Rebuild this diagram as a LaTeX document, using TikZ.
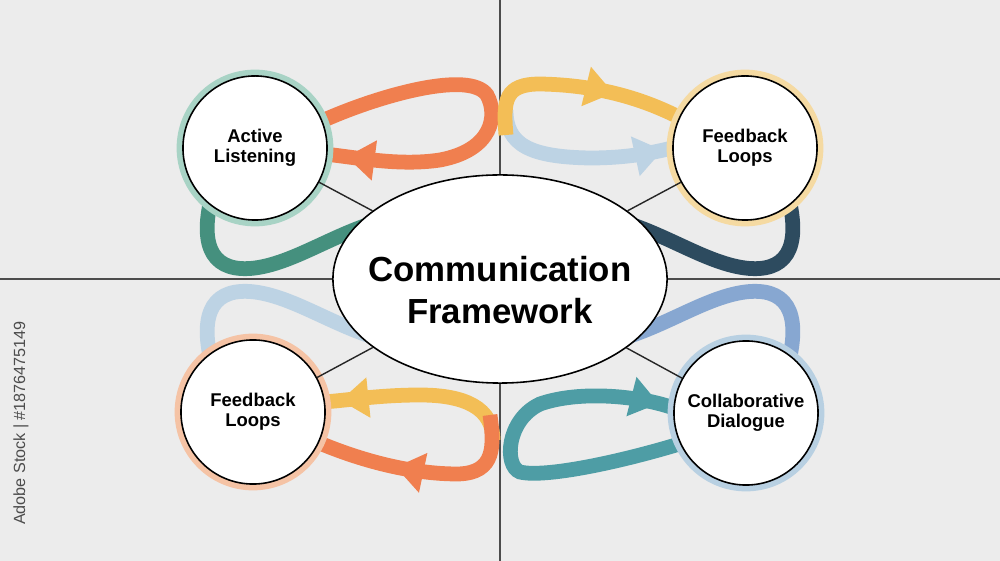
\documentclass[tikz,border=0pt]{standalone}
\usepackage{fontspec}
\setmainfont{Liberation Sans}
\usetikzlibrary{shapes.geometric, arrows.meta, decorations.markings, positioning}
\definecolor{paper}{HTML}{ECECEC}
\definecolor{orangec}{HTML}{F07F4F}
\definecolor{yellowc}{HTML}{F3BE56}
\definecolor{paleblue}{HTML}{BDD3E4}
\definecolor{greenc}{HTML}{45907E}
\definecolor{navyc}{HTML}{2D4B5F}
\definecolor{bluec}{HTML}{87A7D1}
\definecolor{tealc}{HTML}{4E9DA5}
\definecolor{ringteal}{HTML}{A8D3C5}
\definecolor{ringyellow}{HTML}{F5DAA2}
\definecolor{ringpeach}{HTML}{F5C3A5}
\definecolor{ringblue}{HTML}{B8D0E2}
\pgfdeclarelayer{back}
\pgfdeclarelayer{mid}
\pgfsetlayers{back,mid,main}
\tikzset{
  topic/.style={circle, draw=black, line width=0.45pt, fill=white, minimum size=1.44cm,
    inner sep=0pt, align=center, font=\fontsize{5.25}{5.7}\selectfont\bfseries,
    preaction={draw=#1, line width=3.6pt}},
  ribbon/.style={color=#1, line width=4.2pt},
  midarrow/.style={postaction={decorate}, decoration={markings,
    mark=at position #1 with {\arrow{Triangle[width=11pt,length=8pt]}}}},
  spoke/.style={draw=black!85, line width=0.4pt}
}

\begin{document}
\begin{tikzpicture}[x=0.01cm, y=-0.01cm]
    \useasboundingbox (0,0) rectangle (1000,561);

    % nodes
    \node[ellipse, draw=black, line width=0.45pt, fill=white, minimum width=3.34cm, minimum height=2.08cm, inner sep=0pt] (fw) at (500,279) {};
    \node[align=center, font=\fontsize{9.9}{11.7}\selectfont\bfseries] (fwtext) at (500,290) {Communication\\Framework};
    \node[topic=ringteal] (al) at (255,148) {Active\\Listening};
    \node[topic=ringyellow] (fl1) at (745,148) {Feedback\\Loops};
    \node[topic=ringpeach] (fl2) at (253,412) {Feedback\\Loops};
    \node[topic=ringblue] (cd) at (746,413) {Collaborative\\Dialogue};

    \node[rotate=90, font=\fontsize{4.6}{5}\selectfont, text=black!70] (stockid) at (21,423) {Adobe Stock | \#1876475149};

    \draw[spoke] (al) -- (fw);
    \draw[spoke] (fl1) -- (fw);
    \draw[spoke] (fl2) -- (fw);
    \draw[spoke] (cd) -- (fw);

    \begin{pgfonlayer}{back}
      \fill[paper] (0,0) rectangle (1000,561);
      \draw[black!70, line width=0.5pt] (500,0) -- (500,561);
      \draw[black!70, line width=0.5pt] (0,279) -- (1000,279);
    \end{pgfonlayer}

    \begin{pgfonlayer}{mid}
      % upper loops
      \draw[ribbon=orangec, midarrow=0.95] (al.22) .. controls (380,95) and (470,70) .. (487,95)
        .. controls (498,115) and (493,150) .. (440,160) .. controls (400,166) and (360,158) .. (al.-5);
      \draw[ribbon=paleblue, midarrow=0.95] (506,110) .. controls (506,145) and (530,157) .. (590,158)
        .. controls (630,158) and (655,152) .. (fl1.180);
      \draw[ribbon=yellowc, midarrow=0.68] (506,135) .. controls (503,100) and (505,84) .. (540,84)
        .. controls (600,85) and (645,100) .. (fl1.155);
      \draw[ribbon=greenc] (212,195) .. controls (198,250) and (215,273) .. (255,268)
        .. controls (300,262) and (345,225) .. (405,215);
      \draw[ribbon=navyc] (788,195) .. controls (802,250) and (785,273) .. (745,268)
        .. controls (700,262) and (655,225) .. (595,215);
      % lower loops
      \draw[ribbon=paleblue] (212,365) .. controls (198,310) and (215,287) .. (255,292)
        .. controls (300,298) and (345,335) .. (405,345);
      \draw[ribbon=bluec] (788,365) .. controls (802,310) and (785,287) .. (745,292)
        .. controls (700,298) and (655,335) .. (595,345);
      \draw[ribbon=yellowc, midarrow=0.92] (493,440) .. controls (493,408) and (465,395) .. (420,395)
        .. controls (380,395) and (350,400) .. (fl2.8);
      \draw[ribbon=orangec, midarrow=0.64] (490,415) .. controls (494,445) and (496,473) .. (458,474)
        .. controls (410,474) and (360,460) .. (fl2.-25);
      \draw[ribbon=tealc, midarrow=0.96] (cd.-155) .. controls (620,462) and (545,478) .. (520,472)
        .. controls (504,466) and (506,420) .. (540,404) .. controls (580,390) and (640,396) .. (cd.176);
    \end{pgfonlayer}
  \end{tikzpicture}
\end{document}
